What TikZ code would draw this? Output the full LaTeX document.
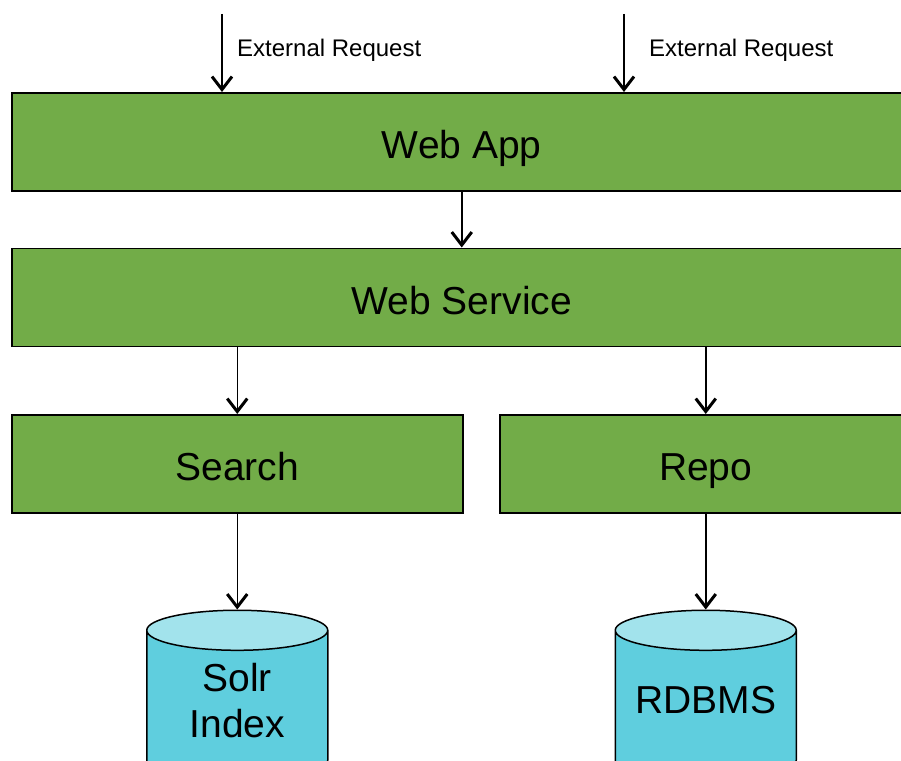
\documentclass[tikz,border=0pt]{standalone}
\usepackage{fontspec}
\setmainfont{Liberation Sans}
\usetikzlibrary{positioning,shapes.geometric,arrows.meta}

\definecolor{boxgreen}{HTML}{72AC48}
\definecolor{dbbody}{HTML}{5FCEDE}
\definecolor{dbtop}{HTML}{A2E3EC}

% same text box for every store, so both cylinders get the same ends
\newcommand{\storetext}[1]{\parbox[c][92pt][c]{150pt}{\centering #1}}

\tikzset{
  layer/.style={draw=black, line width=1.5pt, fill=boxgreen, minimum height=98pt,
    inner sep=0pt, text height=34pt, text depth=0pt, font=\fontsize{39}{46}\selectfont},
  store/.style={cylinder, shape border rotate=90, draw=black, line width=1.5pt,
    cylinder uses custom fill, cylinder body fill=dbbody, cylinder end fill=dbtop,
    minimum width=181pt, minimum height=170pt, aspect=0.267, inner sep=0pt,
    text height=47pt, text depth=45pt, font=\fontsize{39}{46}\selectfont},
  lbl/.style={inner sep=0pt, font=\fontsize{24}{28}\selectfont},
  flow/.style={line width=1.5pt, -{Straight Barb[length=13pt,width=20pt,line width=3pt]}}
}

\begin{document}
\begin{tikzpicture}[x=1pt, y=-1pt, node distance = 56pt]
\clip (0,0) rectangle (901,760);
\useasboundingbox (0,0) rectangle (901,760);

% layers
\node [layer, minimum width=900pt, anchor=north west] (webapp) at (11,92) {Web App};
\node [layer, minimum width=900pt, below=of webapp] (websvc) {Web Service};
\node [layer, minimum width=451pt, below=67pt of websvc.south west, anchor=north west] (search) {Search};
\node [layer, minimum width=412pt, below=67pt of websvc.south east, anchor=north east] (repo) {Repo};

% stores
\node [store, below=96pt of search.south, anchor=north] (solr) {\storetext{Solr\\Index}};
\node [store, below=96pt of repo.south, anchor=north] (rdbms) {\storetext{RDBMS}};

% incoming requests
\coordinate (ext1) at (222,14);
\coordinate (ext2) at (624,14);
\node [lbl, anchor=west] (req1) at (237,50) {External Request};
\node [lbl, anchor=west] (req2) at (649,50) {External Request};

\draw[flow] (ext1) -- (ext1 |- webapp.north);
\draw[flow] (ext2) -- (ext2 |- webapp.north);
\draw[flow] (webapp.south) -- (websvc.north);
\draw[flow] (websvc.south -| search.north) -- (search.north);
\draw[flow] (websvc.south -| repo.north) -- (repo.north);
\draw[flow] (search.south) -- (solr.north);
\draw[flow] (repo.south) -- (rdbms.north);

\end{tikzpicture}
\end{document}
